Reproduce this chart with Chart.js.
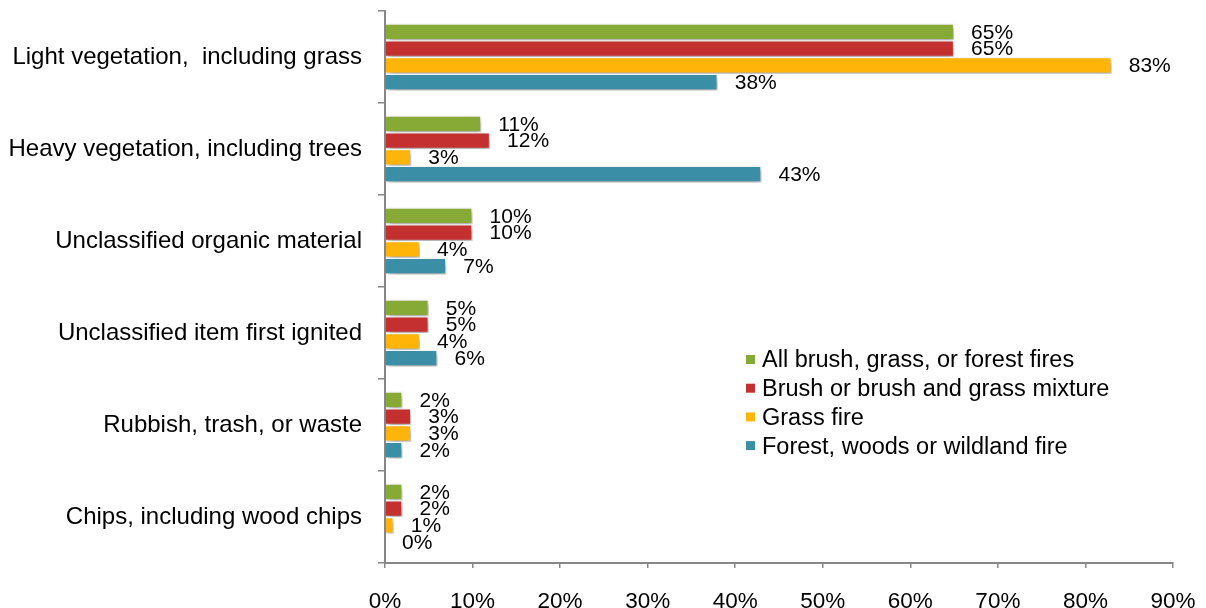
<!DOCTYPE html>
<html>
<head>
<meta charset="utf-8">
<script src="https://cdn.jsdelivr.net/npm/chart.js@4.4.0/dist/chart.umd.min.js"></script>
<style>
  html, body { margin: 0; padding: 0; background: #fff; }
  #wrap { width: 1206px; height: 608px; }
</style>
</head>
<body>
<div id="wrap"><canvas id="fires"></canvas></div>
<script>
// categories (top to bottom)
var categories = [
    'Light vegetation,  including grass',
    'Heavy vegetation, including trees',
    'Unclassified organic material',
    'Unclassified item first ignited',
    'Rubbish, trash, or waste',
    'Chips, including wood chips'
];

// series values, percent
var allFires    = [65, 11, 10, 5, 2, 2];
var brushFires  = [65, 12, 10, 5, 3, 2];
var grassFires  = [83, 3, 4, 4, 3, 1];
var forestFires = [38, 43, 7, 6, 2, 0];

var seriesNames = [
    'All brush, grass, or forest fires',
    'Brush or brush and grass mixture',
    'Grass fire',
    'Forest, woods or wildland fire'
];
var colors = ['#87a936', '#c4302f', '#ffb40a', '#3a8fa6'];

// x tick labels
var xTicks = [0, 10, 20, 30, 40, 50, 60, 70, 80, 90];

var font = 'Liberation Sans, Arial, sans-serif';
var axisGray = '#878787';

// soft drop shadow behind the bars
var shadowPlugin = {
    id: 'barShadow',
    beforeDatasetsDraw: function(chart) {
        var c = chart.ctx;
        c.save();
        c.shadowColor = 'rgba(0,0,0,0.38)';
        c.shadowBlur = 6;
        c.shadowOffsetX = 2;
        c.shadowOffsetY = 3;
    },
    afterDatasetsDraw: function(chart) {
        chart.ctx.restore();
    }
};

// value labels to the right of each bar
var valueLabels = {
    id: 'valueLabels',
    afterDraw: function(chart) {
        var c = chart.ctx;
        c.save();
        c.font = '21px ' + font;
        c.fillStyle = '#000';
        c.textAlign = 'left';
        c.textBaseline = 'middle';
        chart.data.datasets.forEach(function(ds, i) {
            chart.getDatasetMeta(i).data.forEach(function(bar, j) {
                c.fillText(ds.data[j] + '%', bar.x + 17, bar.y + 1);
            });
        });
        c.restore();
    }
};

// legend placed inside the plot area
var innerLegend = {
    id: 'innerLegend',
    afterDraw: function(chart) {
        var c = chart.ctx;
        var x = 746, y = 360, step = 28.7;
        c.save();
        c.font = '23.5px ' + font;
        c.textAlign = 'left';
        c.textBaseline = 'middle';
        chart.data.datasets.forEach(function(ds, i) {
            var yy = y + i * step;
            c.fillStyle = ds.backgroundColor;
            c.fillRect(x, yy - 5, 9, 9);
            c.fillStyle = '#000';
            c.fillText(ds.label, x + 16, yy + 1);
        });
        c.restore();
    }
};

var ctx = document.getElementById('fires').getContext('2d');
var chart = new Chart(ctx, {
    type: 'bar',
    data: {
        labels: categories,
        datasets: [allFires, brushFires, grassFires, forestFires].map(function(d, i) {
            return {
                label: seriesNames[i],
                data: d,
                backgroundColor: colors[i],
                borderColor: '#ffffff',
                borderWidth: 1.25,
                categoryPercentage: 0.73,
                barPercentage: 1
            };
        })
    },
    options: {
        indexAxis: 'y',
        responsive: true,
        maintainAspectRatio: false,
        animation: false,
        layout: { padding: { top: 11, right: 33, left: 0, bottom: 0 } },
        plugins: {
            legend: { display: false },
            tooltip: { enabled: false }
        },
        scales: {
            x: {
                min: 0,
                max: 90,
                afterBuildTicks: function(scale) {
                    scale.ticks = xTicks.map(function(v) { return { value: v }; });
                },
                afterFit: function(scale) {
                    scale.height = 45;
                    scale.paddingLeft = 0;
                    scale.paddingRight = 0;
                },
                grid: { drawOnChartArea: false, drawTicks: true, tickLength: 5, color: axisGray, lineWidth: 1.5 },
                border: { color: axisGray, width: 2 },
                ticks: {
                    padding: 20,
                    color: '#000',
                    font: { family: font, size: 22.5 },
                    callback: function(v) { return v + '%'; }
                }
            },
            y: {
                afterFit: function(scale) {
                    scale.width = 385;
                    scale.paddingTop = 0;
                    scale.paddingBottom = 0;
                },
                grid: { drawOnChartArea: false, drawTicks: true, tickLength: 7, color: axisGray, lineWidth: 1.5, offset: true },
                border: { color: axisGray, width: 2 },
                ticks: {
                    padding: 16,
                    color: '#000',
                    font: { family: font, size: 24 }
                }
            }
        }
    },
    plugins: [shadowPlugin, valueLabels, innerLegend]
});
</script>
</body>
</html>
